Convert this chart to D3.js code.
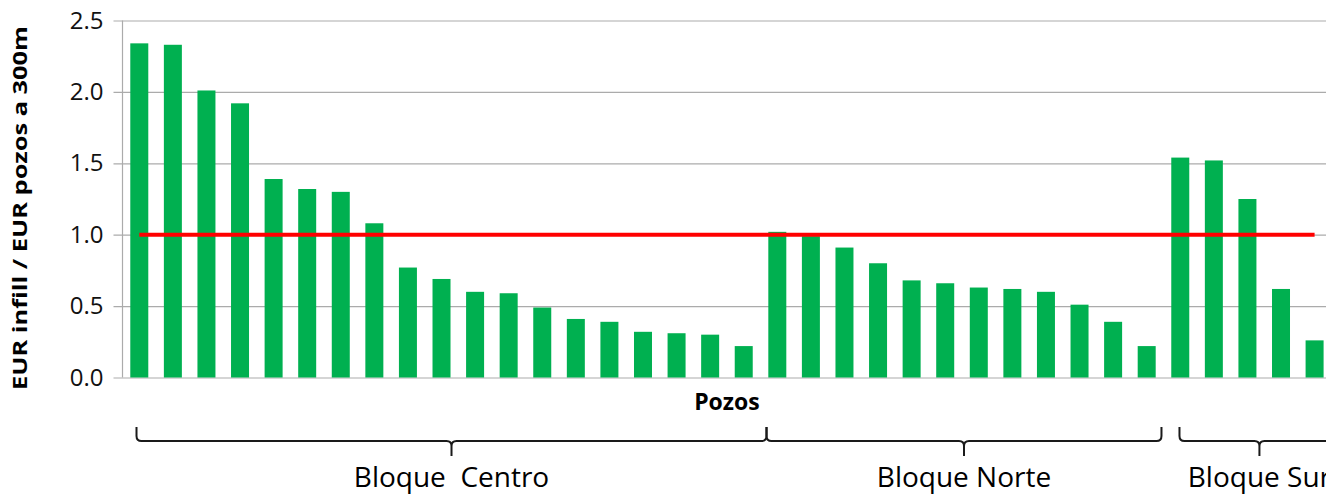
<!DOCTYPE html>
<html>
<head>
<meta charset="utf-8">
<script src="https://cdn.jsdelivr.net/npm/d3@7"></script>
<style>
  html, body { margin: 0; padding: 0; background: #fff; overflow: hidden; }
  svg { display: block; }
  text { font-family: "Open Sans", "Noto Sans", sans-serif; }
</style>
</head>
<body>
<svg id="chart" width="1326" height="497"></svg>
<script>
// ---- Data ----
const pozos = d3.range(1, 37).map(i => "P" + i);
const bloqueCentro = [2.34, 2.33, 2.01, 1.92, 1.39, 1.32, 1.30, 1.08, 0.77, 0.69, 0.60, 0.59, 0.49, 0.41, 0.39, 0.32, 0.31, 0.30, 0.22];
const bloqueNorte = [1.02, 0.99, 0.91, 0.80, 0.68, 0.66, 0.63, 0.62, 0.60, 0.51, 0.39, 0.22];
const bloqueSur = [1.54, 1.52, 1.25, 0.62, 0.26];
const bloqueNombres = ["Bloque  Centro", "Bloque Norte", "Bloque Sur"];
const referencia = 1.0;
const yTicks = [0, 0.5, 1.0, 1.5, 2.0, 2.5];
const yTitle = "EUR infill / EUR pozos a 300m";
const xTitle = "Pozos";

const valores = bloqueCentro.concat(bloqueNorte, bloqueSur);
const bloques = [
  { nombre: bloqueNombres[0], n: bloqueCentro.length },
  { nombre: bloqueNombres[1], n: bloqueNorte.length },
  { nombre: bloqueNombres[2], n: bloqueSur.length }
];

// ---- Layout ----
const svg = d3.select("#chart");
const plotLeft = 122.5, plotTop = 20.5, plotBottom = 377.5;
const step = 33.58;
const plotRight = plotLeft + step * pozos.length;

const x = d3.scaleBand().domain(pozos).range([plotLeft, plotRight]).paddingInner(0.464).paddingOuter(0.232);
const y = d3.scaleLinear().domain([0, 2.5]).range([plotBottom, plotTop]);

// gridlines + tick marks
const yAxis = d3.axisLeft(y).tickValues(yTicks).tickFormat(d3.format(".1f"))
  .tickSize(-(plotRight - plotLeft)).tickSizeOuter(0).tickPadding(19);
const gy = svg.append("g").attr("transform", `translate(${plotLeft},0)`).call(yAxis);
gy.select(".domain").remove();
gy.selectAll(".tick line").attr("x1", -9).attr("stroke", "#ababab").attr("stroke-width", 1.2);
gy.selectAll(".tick text").attr("font-size", 24).attr("fill", "#111")
  .style("font-family", '"Open Sans", sans-serif');

// axis vertical line
svg.append("line").attr("x1", plotLeft).attr("x2", plotLeft).attr("y1", y(2.5)).attr("y2", y(0))
  .attr("stroke", "#ababab").attr("stroke-width", 1.2);

// bars
svg.append("g").selectAll("rect").data(valores).join("rect")
  .attr("x", (d, i) => x(pozos[i]))
  .attr("width", x.bandwidth())
  .attr("y", d => y(d))
  .attr("height", d => y(0) - y(d))
  .attr("fill", "#00b050");

// reference line
svg.append("line")
  .attr("x1", x(pozos[0]) + x.bandwidth() / 2)
  .attr("x2", x(pozos[pozos.length - 1]) + x.bandwidth() / 2)
  .attr("y1", y(referencia)).attr("y2", y(referencia))
  .attr("stroke", "#ff0000").attr("stroke-width", 4);

// y title
svg.append("text")
  .attr("transform", `translate(27,${(25 + 391) / 2}) rotate(-90)`)
  .attr("text-anchor", "middle")
  .attr("font-size", 19.5).attr("font-weight", "bold")
  .attr("textLength", 364).attr("lengthAdjust", "spacingAndGlyphs")
  .text(yTitle);

// x title
svg.append("text")
  .attr("x", (plotLeft + plotRight) / 2).attr("y", 410)
  .attr("text-anchor", "middle").attr("font-size", 23).attr("font-weight", "bold")
  .text(xTitle);

// braces
let start = 0;
const yTop = 427, yMid = 441, yTip = 456, r = 5;
const braceShift = [4, -4, 6];
bloques.forEach((b, k) => {
  const x0 = x(pozos[start]) - x.paddingOuter() * x.step() + 10 + braceShift[k];
  const x1 = x(pozos[start + b.n - 1]) + x.bandwidth() + x.paddingOuter() * x.step() + 2 + braceShift[k];
  const xm = (x0 + x1) / 2;
  const p = `M${x0},${yTop} L${x0},${yMid - r} Q${x0},${yMid} ${x0 + r},${yMid} L${xm - r},${yMid} Q${xm},${yMid} ${xm},${yMid + r} L${xm},${yTip}`
    + ` M${xm},${yMid + r} Q${xm},${yMid} ${xm + r},${yMid} L${x1 - r},${yMid} Q${x1},${yMid} ${x1},${yMid - r} L${x1},${yTop}`;
  svg.append("path").attr("d", p).attr("fill", "none").attr("stroke", "#1a1a1a").attr("stroke-width", 2);
  svg.append("text").attr("x", xm).attr("y", 487).attr("text-anchor", "middle")
    .attr("font-size", 28).attr("fill", "#000").style("white-space", "pre")
    .text(b.nombre);
  start += b.n;
});
</script>
</body>
</html>
